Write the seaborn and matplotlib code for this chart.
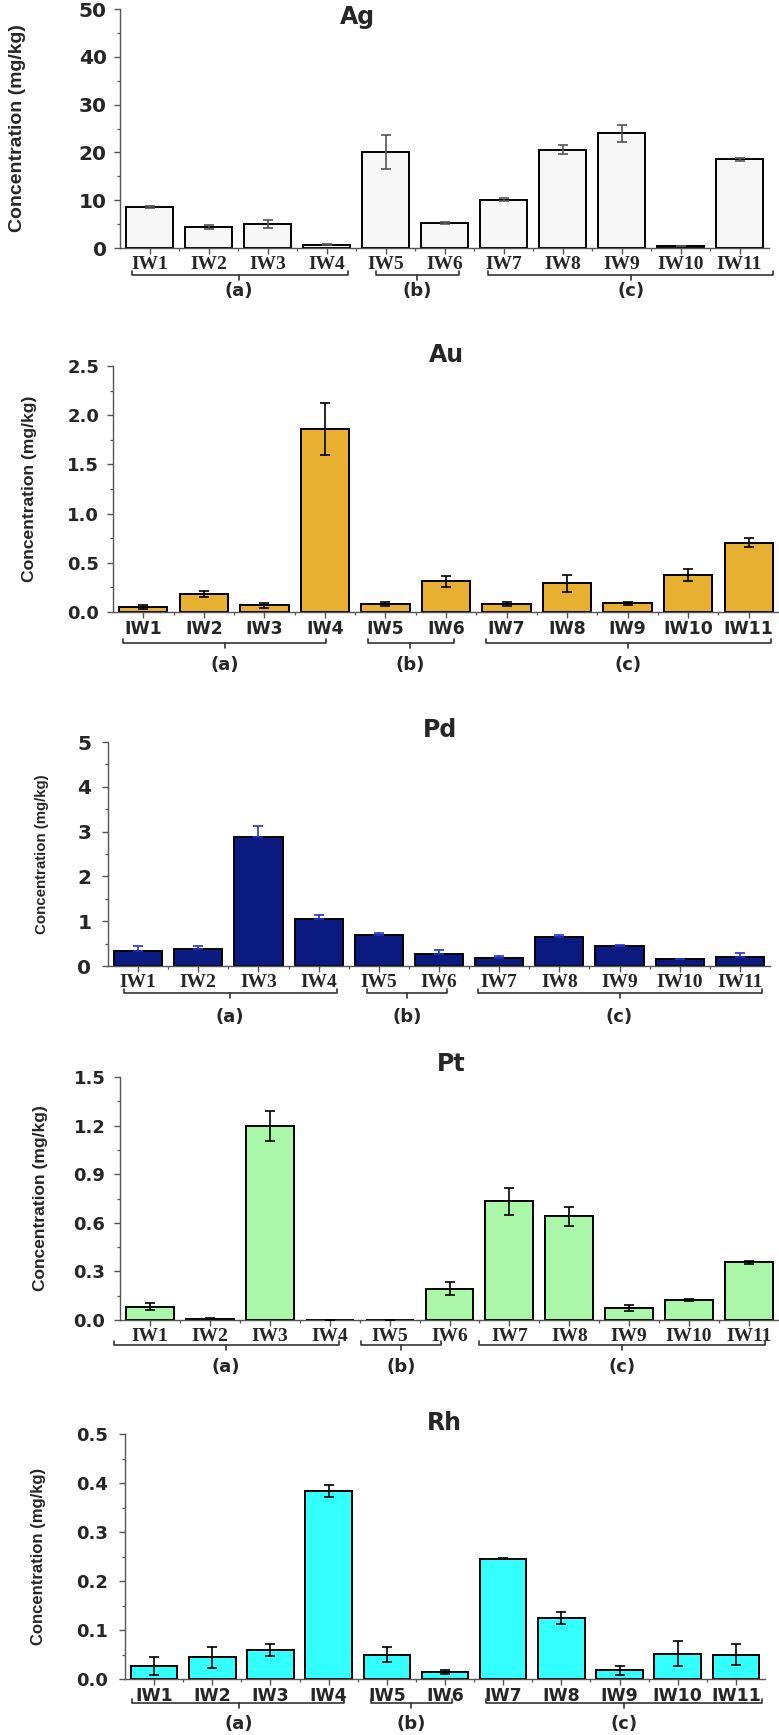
import numpy as np
import pandas as pd
import seaborn as sns
import matplotlib.pyplot as plt
from matplotlib.ticker import MultipleLocator, FixedLocator, FormatStrFormatter

sites = ['IW1', 'IW2', 'IW3', 'IW4', 'IW5', 'IW6', 'IW7', 'IW8', 'IW9', 'IW10', 'IW11']
groups = ['(a)', '(b)', '(c)']

ag_mean = [8.6, 4.4, 5.0, 0.7, 20.1, 5.2, 10.1, 20.6, 24.0, 0.4, 18.6]
ag_err = [0.2, 0.4, 0.9, 0.1, 3.5, 0.15, 0.3, 0.95, 1.75, 0.05, 0.3]

au_mean = [0.05, 0.18, 0.07, 1.86, 0.08, 0.31, 0.08, 0.29, 0.088, 0.375, 0.706]
au_err = [0.017, 0.03, 0.025, 0.265, 0.02, 0.06, 0.02, 0.085, 0.015, 0.064, 0.045]

pd_mean = [0.34, 0.37, 2.89, 1.05, 0.70, 0.275, 0.18, 0.64, 0.45, 0.15, 0.19]
pd_err = [0.10, 0.07, 0.23, 0.09, 0.03, 0.075, 0.045, 0.05, 0.025, 0.005, 0.10]

pt_mean = [0.083, 0.008, 1.20, 0.0, 0.0, 0.194, 0.732, 0.64, 0.074, 0.124, 0.355]
pt_err = [0.019, 0.002, 0.093, 0.0, 0.0, 0.04, 0.084, 0.06, 0.02, 0.006, 0.011]

rh_mean = [0.0266, 0.044, 0.059, 0.3835, 0.050, 0.0136, 0.245, 0.125, 0.0177, 0.052, 0.050]
rh_err = [0.018, 0.022, 0.0115, 0.0116, 0.016, 0.004, 0.001, 0.012, 0.009, 0.025, 0.0205]

W, H = 779, 1735
sns.set_style('ticks')
plt.rcParams['font.family'] = ['DejaVu Sans']

fig = plt.figure(figsize=(W / 100, H / 100), dpi=100)

panels = [
    dict(name='Ag', mean=ag_mean, err=ag_err, color='#f7f7f7', ecolor='#555555', upper=False,
         box=(120, 9, 769, 248), ymax=50, major=10, minor=5, fmt='%d', yfs=14.5, ypad=5.5,
         xfont='Liberation Serif', xfs=14, lab_w='bold', lab_fs=14, lab_x=17,
         title=(357, 17), brace_off=27, lab_off=43,
         braces=[(-0.3, 3.36, 1.51), (3.84, 5.24, 4.54), (5.73, 10.57, 8.16)]),
    dict(name='Au', mean=au_mean, err=au_err, color='#e8b030', ecolor='black', upper=False,
         box=(113, 366, 779, 612), ymax=2.5, major=0.5, minor=0.25, fmt='%.1f', yfs=13, ypad=6,
         xfont='DejaVu Sans', xfs=12.5, lab_w='bold', lab_fs=12.6, lab_x=30,
         title=(446, 355), brace_off=31, lab_off=53,
         braces=[(-0.33, 3.02, 1.35), (3.71, 5.13, 4.41), (5.66, 10.36, 8.0)]),
    dict(name='Pd', mean=pd_mean, err=pd_err, color='#0a1a80', ecolor='#2233cc', upper=True,
         box=(108, 742, 770, 966), ymax=5, major=1, minor=0.5, fmt='%d', yfs=14.5, ypad=8,
         xfont='Liberation Serif', xfs=14, lab_w='bold', lab_fs=10.8, lab_x=42,
         title=(440, 730), brace_off=27, lab_off=51,
         braces=[(-0.23, 3.31, 1.53), (3.81, 5.14, 4.47), (5.64, 10.37, 8.0)]),
    dict(name='Pt', mean=pt_mean, err=pt_err, color='#aaf7aa', ecolor='black', upper=False,
         box=(120, 1077, 779, 1320), ymax=1.5, major=0.3, minor=0.15, fmt='%.1f', yfs=13, ypad=6.5,
         xfont='Liberation Serif', xfs=14, lab_w='bold', lab_fs=12.5, lab_x=40,
         title=(451, 1064), brace_off=25, lab_off=47,
         braces=[(-0.6, 3.16, 1.27), (3.52, 4.86, 4.19), (5.49, 10.27, 7.88)]),
    dict(name='Rh', mean=rh_mean, err=rh_err, color='#33ffff', ecolor='black', upper=False,
         box=(125, 1434, 765, 1679), ymax=0.5, major=0.1, minor=0.05, fmt='%.1f', yfs=13, ypad=8.5,
         xfont='DejaVu Sans', xfs=12.5, lab_w='bold', lab_fs=12, lab_x=39,
         title=(444, 1423), brace_off=24, lab_off=45,
         braces=[(-0.38, 3.26, 1.46), (3.73, 5.12, 4.42), (5.70, 10.45, 8.08)]),
]

for p in panels:
    l, t, r, b = p['box']
    aw, ah = r - l, b - t
    ax = fig.add_axes([l / W, 1 - b / H, aw / W, ah / H])
    df = pd.DataFrame({'site': sites, 'value': p['mean']})
    sns.barplot(data=df, x='site', y='value', color=p['color'], saturation=1,
                edgecolor='black', linewidth=1.4, width=0.8, errorbar=None, ax=ax)
    x = np.arange(len(sites))
    err = np.array(p['err'])
    yerr = [np.zeros_like(err), err] if p['upper'] else err
    ax.errorbar(x, p['mean'], yerr=yerr, fmt='none', ecolor=p['ecolor'],
                elinewidth=1.2, capsize=3.5, capthick=1.2, zorder=5)

    ax.set_xlim(-0.5, 10.5)
    ax.set_ylim(0, p['ymax'])
    ax.yaxis.set_major_locator(MultipleLocator(p['major']))
    ax.yaxis.set_minor_locator(MultipleLocator(p['minor']))
    ax.yaxis.set_major_formatter(FormatStrFormatter(p['fmt']))
    ax.xaxis.set_minor_locator(FixedLocator(np.arange(0.5, 10.5, 1)))
    sns.despine(ax=ax)
    for s in ['left', 'bottom']:
        ax.spines[s].set_color('#555555')
        ax.spines[s].set_linewidth(1.0)
    ax.tick_params(which='major', direction='out', length=4, width=1, color='#555555')
    ax.tick_params(which='minor', direction='out', length=2.5, width=0.9, color='#555555')
    ax.tick_params(axis='y', pad=p['ypad'])
    ax.tick_params(axis='x', pad=2)
    ax.set_xticks(x)
    ax.set_xticklabels(sites, fontfamily=p['xfont'], fontweight='bold', fontsize=p['xfs'])
    for lbl in ax.get_yticklabels():
        lbl.set_fontweight('bold')
        lbl.set_fontsize(p['yfs'])

    ax.set_xlabel('')
    ax.set_ylabel('Concentration (mg/kg)', fontfamily='Liberation Sans',
                  fontweight=p['lab_w'], fontsize=p['lab_fs'])
    ax.yaxis.label.set_va('center')
    ax.yaxis.set_label_coords((p['lab_x'] - l) / aw, 0.5)

    tx, ty = p['title']
    ax.text((tx - l) / aw, (b - ty) / ah, p['name'], transform=ax.transAxes,
            ha='center', va='center', fontsize=17, fontweight='bold', clip_on=False)

    tr = ax.get_xaxis_transform()
    yb = -p['brace_off'] / ah
    hook = 4 / ah
    tip = 5 / ah
    for (x0, x1, xm), g in zip(p['braces'], groups):
        ax.plot([x0, x0, x1, x1], [yb + hook, yb, yb, yb + hook], transform=tr,
                color='#333333', lw=1.2, clip_on=False)
        ax.plot([xm, xm], [yb, yb - tip], transform=tr, color='#333333', lw=1.2, clip_on=False)
        ax.text(xm, -p['lab_off'] / ah, g, transform=tr, ha='center', va='center',
                fontsize=13, fontweight='bold', clip_on=False)

fig.savefig('out.png', dpi=100, facecolor='white')
